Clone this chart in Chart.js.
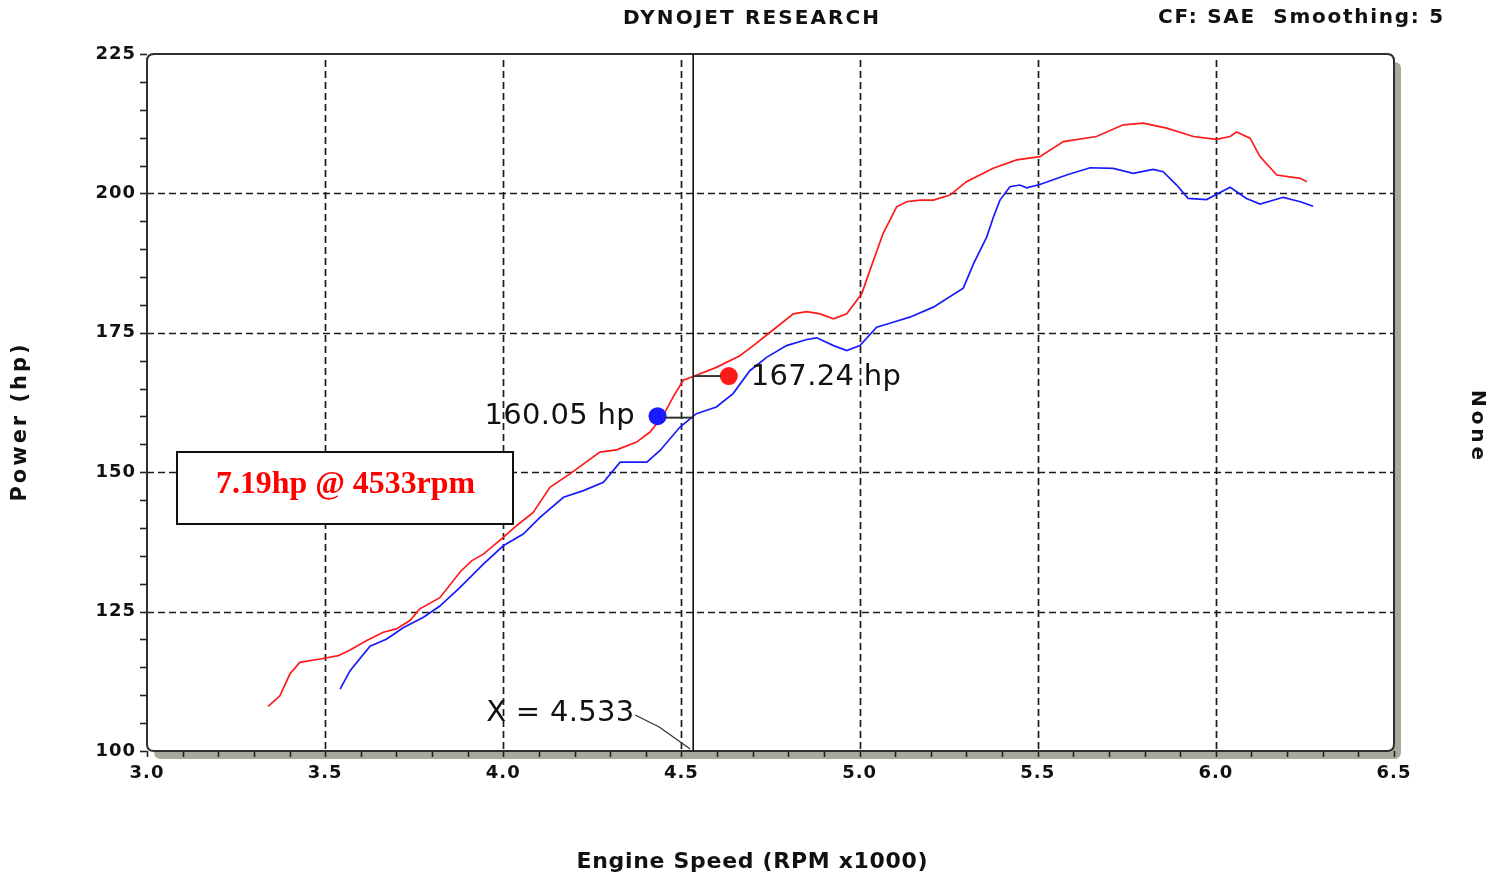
<!DOCTYPE html>
<html><head><meta charset="utf-8">
<script src="https://cdn.jsdelivr.net/npm/chart.js@4.4.1/dist/chart.umd.min.js"></script>
<style>html,body{margin:0;padding:0;background:#fff;overflow:hidden}canvas{display:block}</style>
</head><body>
<canvas id="c" width="1507" height="877"></canvas>
<script>
// ---- data ----
const redRpm = [3.340,3.373,3.401,3.429,3.486,3.537,3.570,3.617,3.663,3.700,3.738,3.766,3.822,3.880,3.911,3.944,4.000,4.037,4.084,4.131,4.187,4.271,4.318,4.374,4.412,4.449,4.477,4.505,4.542,4.598,4.664,4.700,4.749,4.814,4.852,4.889,4.927,4.964,5.006,5.029,5.066,5.104,5.132,5.170,5.207,5.254,5.300,5.375,5.441,5.506,5.572,5.665,5.740,5.796,5.862,5.937,6.002,6.040,6.058,6.096,6.124,6.171,6.237,6.255];
const redHp  = [108.0,109.9,113.8,115.9,116.5,117.1,118.1,119.8,121.3,121.9,123.4,125.5,127.5,132.2,134.1,135.3,138.3,140.4,142.8,147.3,149.7,153.6,154.0,155.4,157.2,160.2,163.5,166.5,167.4,168.8,170.9,172.6,175.1,178.4,178.8,178.4,177.5,178.4,182.0,186.2,192.8,197.6,198.5,198.8,198.8,199.7,202.1,204.5,206.0,206.6,209.3,210.2,212.3,212.6,211.7,210.2,209.7,210.2,211.0,209.9,206.6,203.3,202.7,202.1];
const blueRpm = [3.542,3.570,3.626,3.673,3.719,3.776,3.822,3.878,3.944,4.000,4.056,4.103,4.169,4.225,4.281,4.328,4.403,4.440,4.496,4.542,4.598,4.645,4.692,4.739,4.795,4.852,4.880,4.927,4.964,5.001,5.048,5.094,5.141,5.207,5.291,5.320,5.357,5.376,5.394,5.422,5.450,5.469,5.506,5.581,5.647,5.712,5.768,5.824,5.852,5.890,5.922,5.974,6.040,6.086,6.124,6.189,6.237,6.273];
const blueHp  = [111.1,114.4,118.8,120.1,122.1,124.0,126.0,129.3,133.5,136.8,138.9,141.9,145.5,146.7,148.2,151.8,151.8,153.9,158.1,160.5,161.7,164.1,168.2,170.6,172.7,173.8,174.1,172.7,171.8,172.7,176.0,176.9,177.8,179.6,183.0,187.4,192.2,195.8,198.8,201.2,201.5,201.0,201.6,203.3,204.6,204.5,203.6,204.3,203.9,201.5,199.1,198.9,201.1,199.1,198.1,199.3,198.5,197.7];
const xTicks = [3.0,3.5,4.0,4.5,5.0,5.5,6.0,6.5];
const yTicks = [100,125,150,175,200,225];
const cursorRpm = 4.533;
const readoutHp = [167.24, 160.05];          // red, blue
const readoutLabels = ['167.24 hp', '160.05 hp'];
const cursorLabel = 'X = 4.533';
const gainText = '7.19hp @ 4533rpm';
const titleText = 'DYNOJET RESEARCH';
const infoText = 'CF: SAE  Smoothing: 5';
const xTitle = 'Engine Speed (RPM x1000)';
const yTitle = 'Power (hp)';
const y2Title = 'None';

const RED = '#ff1a1a', BLUE = '#1a1aff';
const markerOffset = 0.1; // rpm offset of readout dots from the cursor

function fitText(ctx, text, x, y, width, font, anchor, color) {
  ctx.save();
  ctx.font = font;
  ctx.fillStyle = color || '#111';
  ctx.textBaseline = 'middle';
  ctx.textAlign = 'left';
  const hasLS = ('letterSpacing' in ctx);
  if (hasLS) ctx.letterSpacing = '0px';
  const n = Array.from(text).length;
  const w0 = ctx.measureText(text).width;
  const left = anchor === 'center' ? x - width / 2 : anchor === 'right' ? x - width : x;
  if (hasLS && width >= w0) {
    ctx.letterSpacing = ((width - w0) / (n - 1)).toFixed(2) + 'px';
    ctx.fillText(text, left, y);
  } else {
    ctx.translate(left, y); ctx.scale(width / w0, 1); ctx.fillText(text, 0, 0);
  }
  ctx.restore();
}

function rr(ctx, x, y, w, h, r) {
  ctx.beginPath();
  ctx.moveTo(x + r, y);
  ctx.lineTo(x + w - r, y); ctx.quadraticCurveTo(x + w, y, x + w, y + r);
  ctx.lineTo(x + w, y + h - r); ctx.quadraticCurveTo(x + w, y + h, x + w - r, y + h);
  ctx.lineTo(x + r, y + h); ctx.quadraticCurveTo(x, y + h, x, y + h - r);
  ctx.lineTo(x, y + r); ctx.quadraticCurveTo(x, y, x + r, y);
  ctx.closePath();
}

const decor = {
  id: 'decor',
  beforeDraw(chart) {
    const ctx = chart.ctx;
    if ('letterSpacing' in ctx) ctx.letterSpacing = '1px';
  },
  beforeDatasetsDraw(chart) {
    const { ctx, chartArea: a, scales: { x, y } } = chart;
    ctx.save();
    if ('letterSpacing' in ctx) ctx.letterSpacing = '0px';
    const w = a.right - a.left, h = a.bottom - a.top;
    // 3D shadow
    ctx.fillStyle = '#a9a99b';
    rr(ctx, a.left + 7, a.top + 8, w, h, 7); ctx.fill();
    ctx.fillStyle = '#ffffff';
    rr(ctx, a.left, a.top, w, h, 7); ctx.fill();
    // dashed grid
    ctx.strokeStyle = '#1c1c1c'; ctx.lineWidth = 1.7; ctx.setLineDash([7, 4]);
    xTicks.forEach(v => {
      if (v <= x.min || v >= x.max) return;
      const px = Math.round(x.getPixelForValue(v)) + 0.5;
      ctx.beginPath(); ctx.moveTo(px, a.top + 6); ctx.lineTo(px, a.bottom); ctx.stroke();
    });
    yTicks.forEach(v => {
      if (v <= y.min || v >= y.max) return;
      const py = Math.round(y.getPixelForValue(v)) + 0.5;
      ctx.beginPath(); ctx.moveTo(a.left, py); ctx.lineTo(a.right, py); ctx.stroke();
    });
    ctx.setLineDash([]);
    // minor ticks
    ctx.strokeStyle = '#222'; ctx.lineWidth = 1.6;
    for (let v = y.min; v <= y.max + 0.001; v += 5) {
      const py = Math.round(y.getPixelForValue(v)) + 0.5;
      ctx.beginPath(); ctx.moveTo(a.left - 7, py); ctx.lineTo(a.left, py); ctx.stroke();
    }
    for (let i = Math.round(x.min * 10); i <= Math.round(x.max * 10); i++) {
      const px = Math.round(x.getPixelForValue(i / 10)) + 0.5;
      ctx.beginPath(); ctx.moveTo(px, a.bottom); ctx.lineTo(px, a.bottom + 6); ctx.stroke();
    }
    // frame
    ctx.strokeStyle = '#2e2e2e'; ctx.lineWidth = 2;
    rr(ctx, a.left, a.top, w, h, 7); ctx.stroke();
    ctx.restore();
  },
  afterDatasetsDraw(chart) {
    const { ctx, chartArea: a, scales: { x, y } } = chart;
    ctx.save();
    if ('letterSpacing' in ctx) ctx.letterSpacing = '0px';
    const cx = x.getPixelForValue(cursorRpm);
    // cursor line
    ctx.strokeStyle = '#111'; ctx.lineWidth = 1.6;
    ctx.beginPath(); ctx.moveTo(cx, a.top); ctx.lineTo(cx, a.bottom); ctx.stroke();
    // connectors
    const ry = y.getPixelForValue(readoutHp[0]);
    const by = y.getPixelForValue(readoutHp[1]) + 1.5;
    const rx = x.getPixelForValue(cursorRpm + markerOffset);
    const bx = x.getPixelForValue(cursorRpm - markerOffset);
    ctx.strokeStyle = '#333'; ctx.lineWidth = 2;
    ctx.beginPath(); ctx.moveTo(cx, ry); ctx.lineTo(rx - 8, ry); ctx.stroke();
    ctx.beginPath(); ctx.moveTo(bx + 8, by); ctx.lineTo(cx, by); ctx.stroke();
    // readout labels
    fitText(ctx, readoutLabels[0], rx + 22, ry + 1, 150, '29px "DejaVu Sans", sans-serif', 'left', '#111');
    fitText(ctx, readoutLabels[1], bx - 23, by - 1, 150, '29px "DejaVu Sans", sans-serif', 'right', '#111');
    // X = 4.533 label + leader
    const lx = cx - 59, ly = 713;
    fitText(ctx, cursorLabel, lx, ly, 148, '29px "DejaVu Sans", sans-serif', 'right', '#111');
    ctx.strokeStyle = '#333'; ctx.lineWidth = 1.3;
    ctx.beginPath(); ctx.moveTo(lx + 1, ly + 2); ctx.lineTo(lx + 25, ly + 14); ctx.lineTo(cx - 3, a.bottom - 2); ctx.stroke();
    // gain box
    ctx.fillStyle = '#fff'; ctx.fillRect(177, 452, 336, 72);
    ctx.strokeStyle = '#111'; ctx.lineWidth = 2; ctx.strokeRect(177, 452, 336, 72);
    fitText(ctx, gainText, 345.5, 485, 259, 'bold 32px "Liberation Serif", "Times New Roman", serif', 'center', '#ff0000');
    ctx.restore();
  },
  afterDraw(chart) {
    const ctx = chart.ctx;
    if ('letterSpacing' in ctx) ctx.letterSpacing = '0px';
    const B = '"DejaVu Sans", sans-serif';
    fitText(ctx, titleText, 751, 19, 256, 'bold 20px ' + B, 'center', '#111');
    fitText(ctx, infoText, 1158, 18, 285, 'bold 20px ' + B, 'left', '#111');
    fitText(ctx, xTitle, 752, 862, 351, 'bold 22px ' + B, 'center', '#111');
    ctx.save(); ctx.translate(21, 423); ctx.rotate(-Math.PI / 2);
    fitText(ctx, yTitle, 0, 0, 157, 'bold 21px ' + B, 'center', '#111');
    ctx.restore();
    ctx.save(); ctx.translate(1477, 425); ctx.rotate(Math.PI / 2);
    fitText(ctx, y2Title, 0, 0, 70, 'bold 20px ' + B, 'center', '#111');
    ctx.restore();
  }
};

const tickFont = { family: '"DejaVu Sans", sans-serif', size: 18, weight: 'bold' };

new Chart(document.getElementById('c'), {
  type: 'scatter',
  data: {
    datasets: [
      {
        label: 'readout',
        data: [
          { x: cursorRpm + markerOffset, y: readoutHp[0] },
          { x: cursorRpm - markerOffset, y: readoutHp[1] }
        ],
        pointRadius: 9, pointHoverRadius: 9,
        pointBackgroundColor: [RED, BLUE], pointBorderColor: [RED, BLUE], pointBorderWidth: 0,
        showLine: false
      },
      {
        label: 'Run A',
        data: redRpm.map((v, i) => ({ x: v, y: redHp[i] })),
        showLine: true, borderColor: RED, borderWidth: 1.7, pointRadius: 0, tension: 0, fill: false
      },
      {
        label: 'Run B',
        data: blueRpm.map((v, i) => ({ x: v, y: blueHp[i] })),
        showLine: true, borderColor: BLUE, borderWidth: 1.7, pointRadius: 0, tension: 0, fill: false
      }
    ]
  },
  options: {
    responsive: false,
    animation: false,
    events: [],
    layout: { padding: { left: 0, top: 54, right: 113, bottom: 0 } },
    plugins: { legend: { display: false }, tooltip: { enabled: false }, title: { display: false } },
    scales: {
      x: {
        type: 'linear', min: 3.0, max: 6.5,
        afterBuildTicks: s => { s.ticks = xTicks.map(v => ({ value: v })); },
        afterFit: s => { s.height = 126; },
        grid: { display: false, drawTicks: false },
        border: { display: false },
        ticks: { font: tickFont, color: '#111', padding: 12, maxRotation: 0, autoSkip: false,
                 callback: v => Number(v).toFixed(1) }
      },
      y: {
        type: 'linear', min: 100, max: 225,
        afterBuildTicks: s => { s.ticks = yTicks.map(v => ({ value: v })); },
        afterFit: s => { s.width = 147; },
        grid: { display: false, drawTicks: false },
        border: { display: false },
        ticks: { font: tickFont, color: '#111', padding: 11, autoSkip: false,
                 callback: v => String(v) }
      }
    }
  },
  plugins: [decor]
});
</script>
</body></html>
